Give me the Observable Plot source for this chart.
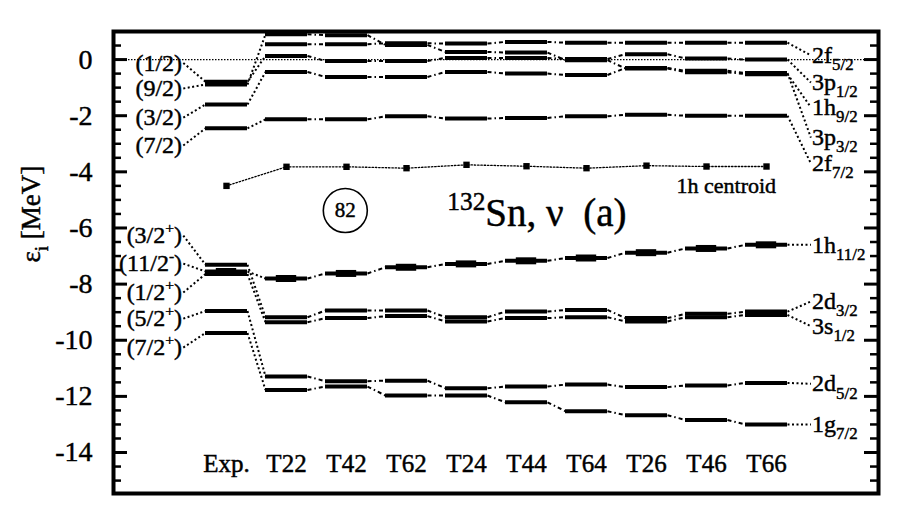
<!DOCTYPE html>
<html><head><meta charset="utf-8">
<script src="https://cdn.jsdelivr.net/npm/d3@7"></script>
<script src="https://cdn.jsdelivr.net/npm/@observablehq/plot@0.6"></script>
<style>
body{margin:0;background:#fff;}
#chart{width:900px;height:525px;}
#chart svg{font-family:"Liberation Serif","Times New Roman",serif;}
#chart svg text{stroke:black;stroke-width:0.45px;}
</style></head><body><div id="chart"></div>
<script>
// ---- data ----
const columns = ["Exp.","T22","T42","T62","T24","T44","T64","T26","T46","T66"];
const f52  = [null, 0.55, 0.55, 0.58, 0.57, 0.63, 0.60, 0.60, 0.60, 0.60];
const p12  = [-0.79, 0.13, -0.05, -0.05, 0.06, 0.06, 0.02, 0.19, 0.04, 0.00];
const h92  = [-0.89, 0.90, 0.87, 0.52, 0.27, 0.25, -0.02, -0.32, -0.45, -0.52];
const p32  = [-1.60, -0.44, -0.62, -0.62, -0.44, -0.50, -0.55, -0.30, -0.40, -0.48];
const f72  = [-2.45, -2.13, -2.13, -2.02, -2.10, -2.08, -2.02, -1.97, -2.00, -2.00];
const h112 = [-7.55, -7.80, -7.62, -7.40, -7.28, -7.17, -7.07, -6.88, -6.73, -6.60];
const d32  = [-7.31, -9.18, -8.94, -8.94, -9.18, -8.98, -8.92, -9.21, -9.06, -8.98];
const s12  = [-7.64, -9.36, -9.21, -9.14, -9.33, -9.21, -9.18, -9.33, -9.18, -9.10];
const d52  = [-8.96, -11.29, -11.46, -11.44, -11.71, -11.65, -11.58, -11.67, -11.61, -11.52];
const g72  = [-9.74, -11.77, -11.65, -11.97, -11.97, -12.21, -12.53, -12.67, -12.84, -13.00];
const centroid = [-4.50, -3.82, -3.82, -3.87, -3.75, -3.80, -3.87, -3.78, -3.81, -3.81];

const levelSeries = [f52, p12, h92, p32, f72, h112, d32, s12, d52, g72];
const rightLabels = ["2f_{5/2}","3p_{1/2}","1h_{9/2}","3p_{3/2}","2f_{7/2}","1h_{11/2}","2d_{3/2}","3s_{1/2}","2d_{5/2}","1g_{7/2}"];
const rightLabelE = [0.15, -0.82, -1.70, -2.78, -3.70, -6.60, -8.62, -9.50, -11.55, -13.00];
const leftLabels  = [null,"(1/2)","(9/2)","(3/2)","(7/2)","(11/2^{-})","(3/2^{+})","(1/2^{+})","(5/2^{+})","(7/2^{+})"];
const leftLabelE  = [null, -0.12, -1.03, -2.07, -3.06, -7.27, -6.27, -8.30, -9.23, -10.26];
const yTickLabels = [0, -2, -4, -6, -8, -10, -12, -14];

// ---- derived tables ----
const HW = 0.35;             // half bar width (column units)
const LX = -0.72, RX = 9.74; // label connector ends
const bars = [], links = [], labLinks = [], leftTxt = [], rightTxt = [];
levelSeries.forEach((vals, k) => {
  vals.forEach((v, i) => { if (v != null) bars.push({k, col: i, e: v}); });
  for (let i = 0; i < vals.length - 1; i++) {
    if (vals[i] != null && vals[i+1] != null)
      links.push({x1: i + HW, y1: vals[i], x2: i + 1 - HW, y2: vals[i+1], exp: i === 0});
  }
  if (leftLabels[k]) {
    labLinks.push({x1: LX, y1: leftLabelE[k], x2: -HW, y2: vals[0]});
    leftTxt.push({e: leftLabelE[k], t: leftLabels[k]});
  }
  labLinks.push({x1: 9 + HW, y1: vals[9], x2: RX, y2: rightLabelE[k]});
  rightTxt.push({e: rightLabelE[k], t: rightLabels[k]});
});
const h112Rows = h112.map((e, col) => ({col, e}));
const centroidRows = centroid.map((e, col) => ({col, e}));
const majorTicks = d3.range(-14, 1, 2);
const minorTicks = d3.range(-15, 1.01, 0.5).filter(v => !majorTicks.includes(v));
const ML = 113, MR = 22, W = 900 - ML - MR;

const plot = Plot.plot({
  width: 900, height: 525,
  marginLeft: ML, marginRight: MR, marginTop: 31, marginBottom: 32,
  x: {domain: [(ML - 226) / 60, (900 - MR - 226) / 60], axis: null},
  y: {domain: [-15.46, 1.0], axis: null},
  style: {fontFamily: "Liberation Serif, Times New Roman, serif", color: "black", background: "white"},
  marks: [
    Plot.ruleY([0], {stroke: "black", strokeWidth: 1.2, strokeDasharray: "1.5,1.5"}),
    Plot.link(links.filter(d => d.exp), {x1: "x1", y1: "y1", x2: "x2", y2: "y2", stroke: "black", strokeWidth: 2, strokeDasharray: "2,2.5"}),
    Plot.link(links.filter(d => !d.exp), {x1: "x1", y1: "y1", x2: "x2", y2: "y2", stroke: "black", strokeWidth: 2, strokeDasharray: "4,3,1.5,3"}),
    Plot.link(labLinks, {x1: "x1", y1: "y1", x2: "x2", y2: "y2", stroke: "black", strokeWidth: 2, strokeDasharray: "2,2.5"}),
    Plot.ruleY(bars, {y: "e", x1: d => d.col - HW, x2: d => d.col + HW, stroke: "black", strokeWidth: 4}),
    Plot.ruleY(h112Rows, {y: "e", x1: d => d.col - 0.17, x2: d => d.col + 0.17, stroke: "black", strokeWidth: 7}),
    Plot.line(centroidRows, {x: "col", y: "e", stroke: "black", strokeWidth: 1.3, strokeDasharray: "1.5,1.8"}),
    Plot.dot(centroidRows, {x: "col", y: "e", symbol: "square", r: 3.6, fill: "black"}),
    Plot.text(leftTxt, {x: LX - 0.02, y: "e", text: "t", textAnchor: "end", fontSize: 24}),
    Plot.text(rightTxt, {x: RX + 0.02, y: "e", text: "t", textAnchor: "start", fontSize: 24}),
    Plot.text(columns, {x: (d, i) => i, frameAnchor: "bottom", dy: -22, text: d => d, fontSize: 25}),
    Plot.text(["1h centroid"], {x: 7.5, y: -4.52, text: d => d, textAnchor: "start", fontSize: 22}),
    Plot.dot([0], {x: 1.98, y: -5.38, r: 22, stroke: "black", fill: "none", strokeWidth: 1.6}),
    Plot.text(["82"], {x: 1.98, y: -5.38, text: d => d, fontSize: 21}),
    Plot.text(["^{132}Sn,\u00a0\u03bd\u00a0\u00a0(a)"], {x: 3.68, y: -5.5, text: d => d, textAnchor: "start", fontSize: 39}),
    Plot.text(["\u03b5_{i} [MeV]"], {frameAnchor: "left", dx: -82, rotate: -90, text: d => d, fontSize: 27}),
    Plot.tickY(majorTicks, {y: d => d, insetRight: W - 14, stroke: "black", strokeWidth: 3}),
    Plot.tickY(minorTicks, {y: d => d, insetRight: W - 8, stroke: "black", strokeWidth: 2.5}),
    Plot.tickY(majorTicks, {y: d => d, insetLeft: W - 14, stroke: "black", strokeWidth: 3}),
    Plot.tickY(minorTicks, {y: d => d, insetLeft: W - 8, stroke: "black", strokeWidth: 2.5}),
    Plot.axisY(yTickLabels, {anchor: "left", tickSize: 0, tickPadding: 21, fontSize: 28, tickFormat: d => String(d), label: null}),
    Plot.frame({stroke: "black", strokeWidth: 4})
  ]
});
document.getElementById("chart").appendChild(plot);

function richify(root) {
  root.querySelectorAll("text").forEach(t => {
    const s = t.textContent;
    if (!/[\^_]\{/.test(s)) return;
    const fs = parseFloat(getComputedStyle(t).fontSize) || 16;
    while (t.firstChild) t.removeChild(t.firstChild);
    const re = /([\^_])\{([^}]*)\}|([^\^_]+)/g;
    let m, shift = 0;
    while ((m = re.exec(s))) {
      const ts = document.createElementNS("http://www.w3.org/2000/svg", "tspan");
      let target = 0, size = fs;
      if (m[1] === "^") { target = -0.42 * fs; size = 0.65 * fs; ts.textContent = m[2]; }
      else if (m[1] === "_") { target = 0.3 * fs; size = 0.7 * fs; ts.textContent = m[2]; }
      else { ts.textContent = m[3]; }
      const dy = target - shift;
      if (dy) ts.setAttribute("dy", dy);
      ts.setAttribute("font-size", size);
      shift = target;
      t.appendChild(ts);
    }
  });
}
richify(plot);
</script></body></html>
